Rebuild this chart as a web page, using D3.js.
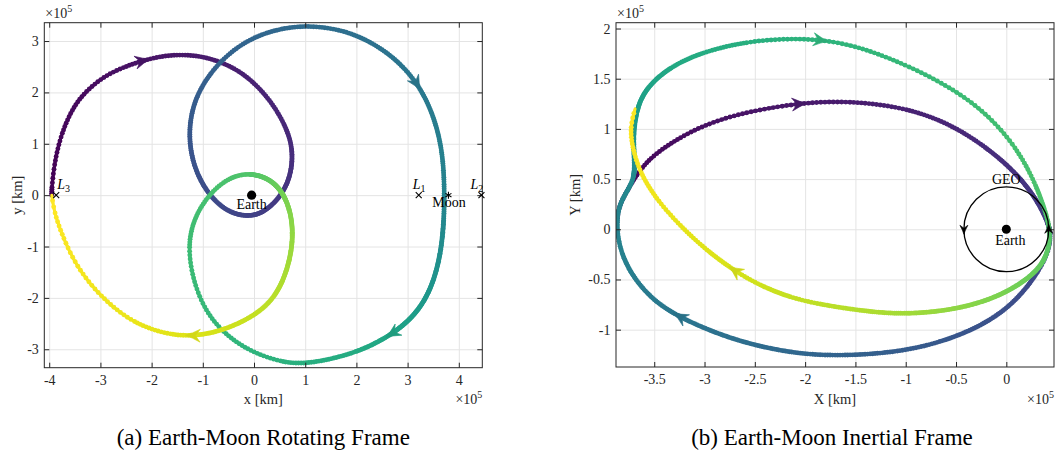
<!DOCTYPE html>
<html>
<head>
<meta charset="utf-8">
<script src="https://cdn.jsdelivr.net/npm/d3@7"></script>
<style>
  body { margin: 0; background: #fff; }
</style>
</head>
<body>
<svg id="fig" width="1056" height="455" font-family="'Liberation Serif', 'DejaVu Serif', serif"></svg>
<script>
// Transfer trajectory, Earth-Moon rotating frame: [x, y, normalised time], x/y in 1e5 km (barycentric)
const rotatingTrack = [
  [-3.95, 0.00, 0.000], [-3.95, 0.16, 0.004], [-3.89, 0.68, 0.010], [-3.76, 1.20, 0.017],
  [-3.56, 1.66, 0.024], [-3.33, 1.98, 0.030], [-2.94, 2.31, 0.037], [-2.55, 2.49, 0.043],
  [-2.20, 2.61, 0.049], [-1.84, 2.70, 0.055], [-1.45, 2.74, 0.062], [-0.92, 2.70, 0.072],
  [-0.27, 2.44, 0.085], [0.25, 1.95, 0.100], [0.60, 1.40, 0.112], [0.77, 0.90, 0.125],
  [0.72, 0.35, 0.145], [0.50, -0.06, 0.165], [0.20, -0.33, 0.180], [-0.08, -0.42, 0.195],
  [-0.45, -0.36, 0.210], [-0.80, -0.10, 0.225], [-1.10, 0.35, 0.245], [-1.26, 0.90, 0.262],
  [-1.26, 1.45, 0.278], [-1.12, 1.95, 0.292], [-0.84, 2.40, 0.305], [-0.45, 2.80, 0.316],
  [0.00, 3.08, 0.326], [0.50, 3.24, 0.336], [1.00, 3.30, 0.346], [1.55, 3.25, 0.356],
  [2.05, 3.10, 0.366], [2.55, 2.82, 0.378], [2.95, 2.47, 0.390], [3.25, 2.08, 0.400],
  [3.47, 1.63, 0.412], [3.62, 1.14, 0.425], [3.70, 0.62, 0.437], [3.72, 0.03, 0.450],
  [3.71, -0.50, 0.465], [3.65, -1.14, 0.490], [3.48, -1.79, 0.520], [3.18, -2.31, 0.550],
  [2.70, -2.72, 0.585], [2.00, -3.08, 0.610], [1.03, -3.30, 0.630], [0.51, -3.25, 0.640],
  [-0.14, -3.02, 0.650], [-0.66, -2.63, 0.660], [-0.99, -2.18, 0.668], [-1.20, -1.62, 0.676],
  [-1.29, -1.01, 0.684], [-1.19, -0.49, 0.694], [-0.92, -0.03, 0.704], [-0.53, 0.33, 0.714],
  [-0.08, 0.45, 0.725], [0.38, 0.29, 0.760], [0.66, -0.10, 0.800], [0.78, -0.68, 0.830],
  [0.70, -1.33, 0.860], [0.44, -1.98, 0.890], [-0.01, -2.37, 0.910], [-0.62, -2.64, 0.930],
  [-1.12, -2.74, 0.945], [-1.64, -2.73, 0.955], [-2.36, -2.50, 0.967], [-3.00, -1.98, 0.977],
  [-3.46, -1.40, 0.985], [-3.72, -0.85, 0.991], [-3.90, -0.35, 0.997], [-3.95, 0.00, 1.000]
];

// Same trajectory, Earth-centred inertial frame: [X, Y, normalised time], 1e5 km
const inertialTrack = [
  [-3.875, 0.00, 0.000], [-3.86, 0.22, 0.006], [-3.77, 0.38, 0.012], [-3.69, 0.52, 0.018],
  [-3.54, 0.72, 0.026], [-3.24, 0.92, 0.036], [-2.95, 1.06, 0.044], [-2.58, 1.17, 0.053],
  [-2.05, 1.26, 0.065], [-1.55, 1.28, 0.077], [-0.99, 1.21, 0.092], [-0.56, 1.05, 0.107],
  [-0.20, 0.82, 0.122], [0.10, 0.56, 0.142], [0.30, 0.30, 0.162], [0.41, 0.08, 0.180],
  [0.445, -0.05, 0.200], [0.42, -0.22, 0.208], [0.33, -0.41, 0.215], [0.10, -0.72, 0.235],
  [-0.23, -0.96, 0.255], [-0.66, -1.13, 0.275], [-1.06, -1.22, 0.290], [-1.55, -1.26, 0.310],
  [-2.05, -1.25, 0.330], [-2.58, -1.14, 0.355], [-2.95, -1.01, 0.375], [-3.26, -0.87, 0.390],
  [-3.51, -0.71, 0.405], [-3.71, -0.48, 0.420], [-3.83, -0.24, 0.435], [-3.875, 0.00, 0.445],
  [-3.86, 0.22, 0.455], [-3.77, 0.38, 0.465], [-3.69, 0.52, 0.475], [-3.70, 0.75, 0.505],
  [-3.71, 0.96, 0.530], [-3.67, 1.22, 0.560], [-3.57, 1.42, 0.580], [-3.34, 1.62, 0.600],
  [-3.01, 1.77, 0.615], [-2.58, 1.87, 0.630], [-2.18, 1.90, 0.640], [-1.85, 1.89, 0.648],
  [-1.50, 1.83, 0.656], [-1.04, 1.66, 0.668], [-0.56, 1.42, 0.680], [-0.20, 1.16, 0.690],
  [0.10, 0.82, 0.700], [0.30, 0.44, 0.712], [0.415, 0.10, 0.725], [0.44, -0.08, 0.735],
  [0.40, -0.28, 0.750], [0.27, -0.46, 0.770], [-0.06, -0.67, 0.800], [-0.49, -0.80, 0.830],
  [-0.99, -0.85, 0.860], [-1.39, -0.82, 0.880], [-1.85, -0.75, 0.900], [-2.15, -0.68, 0.910],
  [-2.45, -0.56, 0.925], [-2.71, -0.41, 0.935], [-2.98, -0.21, 0.950], [-3.24, 0.03, 0.962],
  [-3.48, 0.30, 0.972], [-3.64, 0.56, 0.982], [-3.72, 0.82, 0.990], [-3.74, 1.02, 0.996],
  [-3.69, 1.20, 1.000]
];

// Direction arrows: where each arrowhead tip sits on the track (1e5 km)
const rotatingArrows = [[-2.03, 2.65], [3.27, 2.05], [2.56, -2.76], [-1.35, -2.73]];
const inertialArrows = [[-1.98, 1.28], [-1.77, 1.87], [-3.33, -0.87], [-2.78, -0.39]];

// Tick values
const rotTicksX = [-4, -3, -2, -1, 0, 1, 2, 3, 4];
const rotTicksY = [-3, -2, -1, 0, 1, 2, 3];
const inTicksX = [-3.5, -3, -2.5, -2, -1.5, -1, -0.5, 0];
const inTicksY = [-1, -0.5, 0, 0.5, 1, 1.5, 2];

// Bodies and libration points on the rotating-frame x axis (1e5 km)
const earthX = -0.04671;
const moonX = 3.7973;
const librationNames = ["1", "2", "3"];
const librationX = [3.2171, 4.4424, -3.8635];
const geoRadius = 0.42164;

// number of propagated states shown as markers along each track
const stateCount = 1000;

const svg = d3.select("#fig");
const defs = svg.append("defs");
const ink = "#262626";
let uid = 0;

function arrowHead(g, px, py, angle, color, len, half) {
  const p = `M0,0 Q${-len * 0.45},${-half * 0.3} ${-len},${-half} L${-len * 0.68},0 L${-len},${half} Q${-len * 0.45},${half * 0.3} 0,0 Z`;
  g.append("path").attr("d", p)
    .attr("transform", `translate(${px},${py}) rotate(${angle * 180 / Math.PI})`)
    .attr("fill", color).attr("stroke", color).attr("stroke-width", 0.6).attr("stroke-linejoin", "round");
}

function drawTrack(plot, x, y, track) {
  const line = d3.line().x(d => x(d[0])).y(d => y(d[1])).curve(d3.curveBasis);
  const node = plot.append("path").attr("d", line(track)).attr("fill", "none").node();
  const L = node.getTotalLength();
  const pts = [];
  for (let l = 0; l < L; l += 1) { const p = node.getPointAtLength(l); pts.push({ x: p.x, y: p.y, l }); }
  const pe = node.getPointAtLength(L); pts.push({ x: pe.x, y: pe.y, l: L });
  node.remove();

  // tie every listed state to its place along the drawn curve
  const idx = [], tau = [];
  let j = 0;
  track.forEach((d, i) => {
    const px = x(d[0]), py = y(d[1]);
    let best = j, bd = Infinity;
    const lim = i === track.length - 1 ? pts.length : Math.min(pts.length, j + 160);
    for (let k = j; k < lim; k++) {
      const dd = (pts[k].x - px) ** 2 + (pts[k].y - py) ** 2;
      if (dd < bd) { bd = dd; best = k; }
    }
    if (i === 0) best = 0;
    if (i === track.length - 1) best = pts.length - 1;
    if (idx.length && best <= idx[idx.length - 1]) best = idx[idx.length - 1] + 1;
    idx.push(best); tau.push(d[2]); j = best;
  });
  const tAt = d3.scaleLinear().domain(idx).range(tau).clamp(true);
  pts.forEach((p, k) => { p.t = tAt(k); });

  // chunks of the line, each followed by the state markers that fall inside it
  const chunk = 3;
  for (let k = 0; k < pts.length - 1; k += chunk) {
    const seg = pts.slice(k, Math.min(pts.length, k + chunk + 1));
    const tm = (seg[0].t + seg[seg.length - 1].t) / 2;
    plot.append("polyline").attr("points", seg.map(p => `${p.x},${p.y}`).join(" "))
      .attr("fill", "none").attr("stroke", d3.interpolateViridis(tm))
      .attr("stroke-width", 3.0).attr("stroke-linecap", "round").attr("stroke-linejoin", "round");
    for (let q = 0; q < seg.length - 1; q++) {
      const a = seg[q], b = seg[q + 1];
      const n0 = Math.ceil(a.t * stateCount), n1 = Math.ceil(b.t * stateCount);
      for (let n = n0; n < n1; n++) {
        const f = (n / stateCount - a.t) / (b.t - a.t);
        plot.append("circle").attr("cx", a.x + (b.x - a.x) * f).attr("cy", a.y + (b.y - a.y) * f)
          .attr("r", 2.45).attr("fill", d3.interpolateViridis(n / stateCount));
      }
    }
  }
  return pts;
}

function panel(cfg) {
  const g = svg.append("g");
  const x = d3.scaleLinear().domain(cfg.xDomain).range([cfg.left, cfg.right]);
  const y = d3.scaleLinear().domain(cfg.yDomain).range([cfg.bottom, cfg.top]);
  const W = cfg.right - cfg.left, H = cfg.bottom - cfg.top;
  const cx = (cfg.left + cfg.right) / 2;

  // grid
  g.append("g").attr("transform", `translate(0,${cfg.bottom})`)
    .call(d3.axisBottom(x).tickValues(cfg.xTicks).tickSize(-H).tickFormat(""))
    .call(s => { s.select(".domain").remove(); s.selectAll("line").attr("stroke", "#e4e4e4"); });
  g.append("g").attr("transform", `translate(${cfg.left},0)`)
    .call(d3.axisLeft(y).tickValues(cfg.yTicks).tickSize(-W).tickFormat(""))
    .call(s => { s.select(".domain").remove(); s.selectAll("line").attr("stroke", "#e4e4e4"); });

  const clipId = "clip" + (uid++);
  defs.append("clipPath").attr("id", clipId).append("rect")
    .attr("x", cfg.left).attr("y", cfg.top).attr("width", W).attr("height", H);
  const plot = g.append("g").attr("clip-path", `url(#${clipId})`);
  const pts = drawTrack(plot, x, y, cfg.track);

  // arrowheads along the track
  const ag = g.append("g");
  cfg.arrows.forEach(([ax, ay]) => {
    const px = x(ax), py = y(ay);
    let bi = 0, bd = Infinity;
    pts.forEach((s, k) => { const d = (s.x - px) ** 2 + (s.y - py) ** 2; if (d < bd) { bd = d; bi = k; } });
    const a = pts[Math.max(0, bi - 2)], b = pts[Math.min(pts.length - 1, bi + 2)];
    const ang = Math.atan2(b.y - a.y, b.x - a.x);
    const col = d3.color(d3.interpolateViridis(pts[bi].t)).darker(0.15).formatHex();
    arrowHead(ag, pts[bi].x, pts[bi].y, ang, col, 15, 6.5);
  });

  // frame with inward ticks
  const fmt = d => String(d);
  const axB = g.append("g").attr("transform", `translate(0,${cfg.bottom})`)
    .call(d3.axisBottom(x).tickValues(cfg.xTicks).tickSizeInner(-5).tickSizeOuter(0).tickPadding(7.5).tickFormat(fmt));
  const axL = g.append("g").attr("transform", `translate(${cfg.left},0)`)
    .call(d3.axisLeft(y).tickValues(cfg.yTicks).tickSizeInner(-5).tickSizeOuter(0).tickPadding(5.5).tickFormat(fmt));
  const axT = g.append("g").attr("transform", `translate(0,${cfg.top})`)
    .call(d3.axisTop(x).tickValues(cfg.xTicks).tickSizeInner(-5).tickSizeOuter(0).tickFormat(""));
  const axR = g.append("g").attr("transform", `translate(${cfg.right},0)`)
    .call(d3.axisRight(y).tickValues(cfg.yTicks).tickSizeInner(-5).tickSizeOuter(0).tickFormat(""));
  [axB, axL, axT, axR].forEach(a => {
    a.select(".domain").remove();
    a.attr("font-family", null).attr("font-size", null);
    a.selectAll("line").attr("stroke", ink);
    a.selectAll("text").attr("font-size", 14).attr("fill", ink);
  });
  g.append("rect").attr("x", cfg.left).attr("y", cfg.top).attr("width", W).attr("height", H)
    .attr("fill", "none").attr("stroke", ink).attr("stroke-width", 1);

  // axis titles
  g.append("text").attr("x", cx).attr("y", 404).attr("text-anchor", "middle")
    .attr("font-size", 14.5).attr("fill", ink).text(cfg.xLabel);
  g.append("text").attr("transform", `translate(${cfg.yLabelX},${(cfg.top + cfg.bottom) / 2}) rotate(-90)`)
    .attr("text-anchor", "middle").attr("font-size", 14.5).attr("fill", ink).text(cfg.yLabel);

  // exponent labels
  const e1 = g.append("text").attr("x", cfg.left + 1).attr("y", 18).attr("font-size", 14).attr("fill", ink);
  e1.append("tspan").text("×10");
  e1.append("tspan").attr("font-size", 10).attr("dy", -6).text("5");
  const e2 = g.append("text").attr("x", cfg.right).attr("y", 404).attr("font-size", 14).attr("fill", ink).attr("text-anchor", "end");
  e2.append("tspan").text("×10");
  e2.append("tspan").attr("font-size", 10).attr("dy", -6).text("5");

  // caption
  svg.append("text").attr("x", cx - cfg.capShift).attr("y", 445).attr("text-anchor", "middle")
    .attr("font-size", 23).attr("fill", "#000").text(cfg.caption);

  return { g, x, y };
}

// (a) rotating frame
const A = panel({
  left: 44.3, right: 482.3, top: 22.7, bottom: 367.7,
  xDomain: [-4.096, 4.459], yDomain: [-3.359, 3.357],
  xTicks: rotTicksX, yTicks: rotTicksY, track: rotatingTrack, arrows: rotatingArrows,
  xLabel: "x [km]", yLabel: "y [km]", yLabelX: 22, capShift: 0,
  caption: "(a) Earth-Moon Rotating Frame"
});
{
  const { g, x, y } = A;
  const m = g.append("g");
  m.append("circle").attr("cx", x(earthX)).attr("cy", y(0)).attr("r", 4.6).attr("fill", "#000");
  m.append("text").attr("x", x(earthX)).attr("y", y(0) + 14).attr("text-anchor", "middle")
    .attr("font-size", 14).attr("fill", "#000").text("Earth");
  m.append("path").attr("d", d3.symbol(d3.symbolAsterisk, 34)).attr("transform", `translate(${x(moonX)},${y(0)})`)
    .attr("stroke", "#000").attr("stroke-width", 1.1).attr("fill", "none");
  m.append("text").attr("x", x(moonX) + 0.5).attr("y", y(0) + 12).attr("text-anchor", "middle")
    .attr("font-size", 14).attr("fill", "#000").text("Moon");
  const labelShift = [-6, -11, 1];
  librationX.forEach((lx, i) => {
    m.append("path").attr("d", d3.symbol(d3.symbolTimes, 25)).attr("transform", `translate(${x(lx)},${y(0)})`)
      .attr("stroke", "#000").attr("stroke-width", 1.1).attr("fill", "none");
    const t = m.append("text").attr("x", x(lx) + labelShift[i]).attr("y", y(0) - 6.5)
      .attr("font-size", 14).attr("fill", "#000");
    t.append("tspan").attr("font-style", "italic").text("L");
    t.append("tspan").attr("font-size", 10).attr("dy", 3).text(librationNames[i]);
  });
}

// (b) inertial frame
const B = panel({
  left: 616, right: 1054, top: 22.7, bottom: 367,
  xDomain: [-3.88, 0.474], yDomain: [-1.372, 2.058],
  xTicks: inTicksX, yTicks: inTicksY, track: inertialTrack, arrows: inertialArrows,
  xLabel: "X [km]", yLabel: "Y [km]", yLabelX: 580, capShift: 3,
  caption: "(b) Earth-Moon Inertial Frame"
});
{
  const { g, x, y } = B;
  const m = g.append("g");
  const cx = x(0), cy = y(0), r = x(geoRadius) - x(0);
  m.append("circle").attr("cx", cx).attr("cy", cy).attr("r", r)
    .attr("fill", "none").attr("stroke", "#000").attr("stroke-width", 1.3);
  // counter-clockwise motion markers on the GEO circle
  arrowHead(m, cx - r, cy + 5, Math.PI / 2, "#000", 9, 4);
  arrowHead(m, cx + r, cy - 5, -Math.PI / 2, "#000", 9, 4);
  m.append("circle").attr("cx", cx).attr("cy", cy).attr("r", 4.5).attr("fill", "#000");
  m.append("text").attr("x", cx + 4).attr("y", cy + 16).attr("text-anchor", "middle")
    .attr("font-size", 14).attr("fill", "#000").text("Earth");
  m.append("text").attr("x", cx).attr("y", y(geoRadius) - 3).attr("text-anchor", "middle")
    .attr("font-size", 14).attr("fill", "#000").text("GEO");
}
</script>
</body>
</html>
